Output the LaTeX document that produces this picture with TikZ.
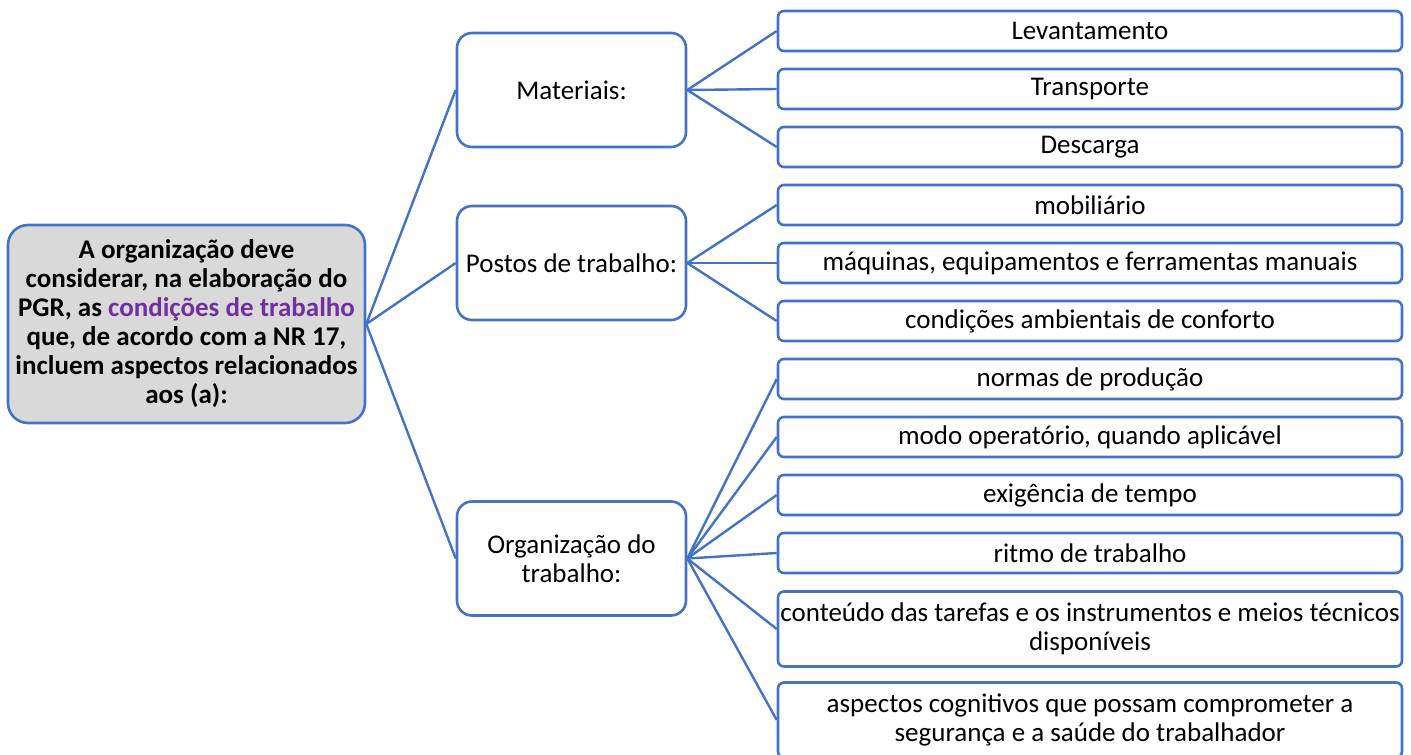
\documentclass[tikz,border=0pt]{standalone}
\usepackage{fontspec}
\setmainfont{Carlito}
\definecolor{bl}{HTML}{4472C4}
\definecolor{pu}{HTML}{7030A0}
\definecolor{gr}{HTML}{D9D9D9}
\begin{document}
\begin{tikzpicture}[x=1pt,y=-1pt,
  base/.style={draw=bl, line width=2.6pt, align=center, inner sep=1pt,
    font=\fontsize{27}{29}\selectfont},
  rootbox/.style={base, fill=gr, rounded corners=20pt, minimum width=357pt, minimum height=198pt, font=\bfseries\fontsize{27}{29}\selectfont},
  midbox/.style={base, fill=white, rounded corners=15pt, minimum width=229pt, minimum height=114pt},
  leaf/.style={base, fill=white, rounded corners=6pt, minimum width=624pt, minimum height=40pt},
  leaftall/.style={leaf, minimum height=75pt},
  conn/.style={draw=bl, line width=2.4pt}]
\useasboundingbox (0,0) rectangle (1411,755);
\node[rootbox] (root) at (186.5,324) {A organização deve\\considerar, na elaboração do\\PGR, as \textcolor{pu}{condições de trabalho}\\que, de acordo com a NR 17,\\incluem aspectos relacionados\\aos (a):};
\node[midbox] (m1) at (571.5,90) {Materiais:};
\node[midbox] (m2) at (571.5,263) {Postos de trabalho:};
\node[midbox] (m3) at (571.5,558.5) {Organização do\\trabalho:};
\node[leaf] (l1) at (1090,31) {Levantamento};
\node[leaf] (l2) at (1090,89) {Transporte};
\node[leaf] (l3) at (1090,147) {Descarga};
\node[leaf] (l4) at (1090,205) {mobiliário};
\node[leaf] (l5) at (1090,263) {máquinas, equipamentos e ferramentas manuais};
\node[leaf] (l6) at (1090,321) {condições ambientais de conforto};
\node[leaf] (l7) at (1090,379) {normas de produção};
\node[leaf] (l8) at (1090,437) {modo operatório, quando aplicável};
\node[leaf] (l9) at (1090,495) {exigência de tempo};
\node[leaf] (l10) at (1090,553) {ritmo de trabalho};
\node[leaftall] (l11) at (1090,629) {conteúdo das tarefas e os instrumentos e meios técnicos\\disponíveis};
\node[leaftall] (l12) at (1090,720) {aspectos cognitivos que possam comprometer a\\segurança e a saúde do trabalhador};
\foreach \m in {m1,m2,m3} \draw[conn] (root.east) -- (\m.west);
\foreach \l in {l1,l2,l3} \draw[conn] (m1.east) -- (\l.west);
\foreach \l in {l4,l5,l6} \draw[conn] (m2.east) -- (\l.west);
\foreach \l in {l7,l8,l9,l10,l11,l12} \draw[conn] (m3.east) -- (\l.west);
\end{tikzpicture}
\end{document}
